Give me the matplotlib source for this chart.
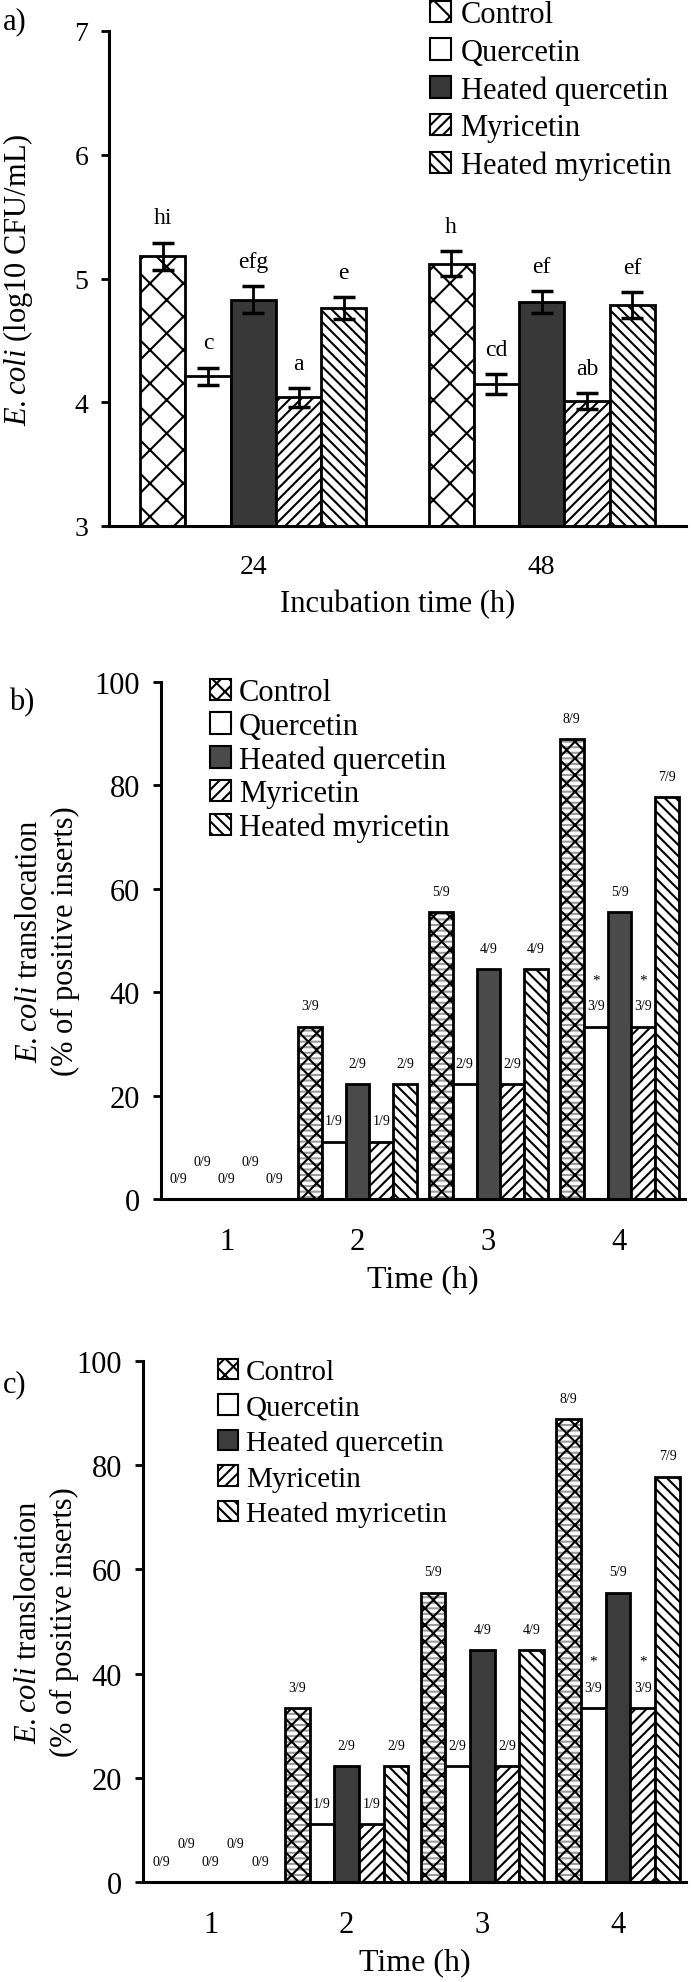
import matplotlib
matplotlib.use('Agg')
import matplotlib.pyplot as plt
from matplotlib.patches import Patch
import numpy as np

plt.rcParams['font.family'] = ['Liberation Serif', 'DejaVu Serif']
plt.rcParams['mathtext.fontset'] = 'custom'
plt.rcParams['mathtext.it'] = 'Liberation Serif:italic'
plt.rcParams['mathtext.rm'] = 'Liberation Serif'
plt.rcParams['hatch.linewidth'] = 1.5

# ---------------- data ----------------
treatments = ['Control', 'Quercetin', 'Heated quercetin', 'Myricetin', 'Heated myricetin']

# panel a: E. coli counts (log10 CFU/mL)
incubation_times = ['24', '48']
a_control = [5.18, 5.12]
a_quercetin = [4.21, 4.15]
a_heated_quercetin = [4.83, 4.81]
a_myricetin = [4.04, 4.01]
a_heated_myricetin = [4.76, 4.785]
a_control_err = [0.11, 0.10]
a_quercetin_err = [0.07, 0.08]
a_heated_quercetin_err = [0.11, 0.09]
a_myricetin_err = [0.075, 0.065]
a_heated_myricetin_err = [0.09, 0.105]
a_control_letters = ['hi', 'h']
a_quercetin_letters = ['c', 'cd']
a_heated_quercetin_letters = ['efg', 'ef']
a_myricetin_letters = ['a', 'ab']
a_heated_myricetin_letters = ['e', 'ef']

# panel b / c: positive inserts out of 9
time_h = [1, 2, 3, 4]
n_inserts = 9
b_control_pos = [0, 3, 5, 8]
b_quercetin_pos = [0, 1, 2, 3]
b_heated_quercetin_pos = [0, 2, 4, 5]
b_myricetin_pos = [0, 1, 2, 3]
b_heated_myricetin_pos = [0, 2, 4, 7]
c_control_pos = [0, 3, 5, 8]
c_quercetin_pos = [0, 1, 2, 3]
c_heated_quercetin_pos = [0, 2, 4, 5]
c_myricetin_pos = [0, 1, 2, 3]
c_heated_myricetin_pos = [0, 2, 4, 7]
significant = [(4, 'Quercetin'), (4, 'Myricetin')]

# ---------------- figure ----------------
W, H = 691, 1983
fig = plt.figure(figsize=(W / 100, H / 100), dpi=100)


def ax_from_px(left, top, right, bottom):
    return fig.add_axes([left / W, 1 - bottom / H, (right - left) / W, (bottom - top) / H])


def style_axes(ax, tick_size):
    for s in ['top', 'right']:
        ax.spines[s].set_visible(False)
    for s in ['left', 'bottom']:
        ax.spines[s].set_linewidth(2.2)
    ax.tick_params(axis='y', direction='out', length=6, width=2, pad=9, labelsize=tick_size)
    ax.tick_params(axis='x', length=0, pad=20, labelsize=tick_size)


# ---------- panel a ----------
axa = ax_from_px(109, 32, 686, 527)
style_axes(axa, 20)
a_vals = [a_control, a_quercetin, a_heated_quercetin, a_myricetin, a_heated_myricetin]
a_errs = [a_control_err, a_quercetin_err, a_heated_quercetin_err, a_myricetin_err, a_heated_myricetin_err]
a_lets = [a_control_letters, a_quercetin_letters, a_heated_quercetin_letters,
          a_myricetin_letters, a_heated_myricetin_letters]
a_style = [dict(facecolor='white', hatch='x'),
           dict(facecolor='white', hatch=None),
           dict(facecolor='#383838', hatch=None),
           dict(facecolor='white', hatch='///'),
           dict(facecolor='white', hatch='\\\\\\')]
wa = 0.157
xg = np.arange(len(incubation_times))
for i, name in enumerate(treatments):
    x = xg + (i - 2) * wa
    vals = np.array(a_vals[i])
    errs = np.array(a_errs[i])
    axa.bar(x, vals - 3, wa, bottom=3, edgecolor='black', linewidth=2, **a_style[i], zorder=2)
    axa.errorbar(x, vals, yerr=errs, fmt='none', ecolor='black', elinewidth=2,
                 capsize=8, capthick=2.5, zorder=3)
    for xi, v, e, t in zip(x, vals, errs, a_lets[i]):
        axa.text(xi, v + e + 0.2, t, ha='center', va='center', fontsize=17)
axa.set_xlim(-0.5, 1.5)
axa.set_ylim(3, 7)
axa.set_yticks([3, 4, 5, 6, 7])
axa.set_xticks(xg)
axa.set_xticklabels(incubation_times)
axa.set_xlabel('Incubation time (h)', fontsize=22, labelpad=7)
axa.set_ylabel(r'$\mathit{E.coli}$ (log10 CFU/mL)', fontsize=22)
axa.yaxis.set_label_coords(-0.128, 0.5)
handles_a = [Patch(edgecolor='black', linewidth=1.5, **s) for s in a_style]
axa.legend(handles_a, treatments, loc='upper left', bbox_to_anchor=(430 / W, 1 - 1 / H),
           bbox_transform=fig.transFigure, frameon=False, borderpad=0, borderaxespad=0,
           handlelength=0.7, handleheight=0.7, handletextpad=0.3, labelspacing=0.28,
           fontsize=22)
fig.text(15 / W, 1 - 22 / H, 'a)', fontsize=22, ha='center', va='center')


# ---------- panels b and c ----------
def translocation_panel(ax, counts, hq_color, legend_x, legend_top, lspacing, legend_size):
    style_axes(ax, 22)
    wb = 0.182
    styles = [dict(facecolor='white', hatch='xx'),
              dict(facecolor='white', hatch=None),
              dict(facecolor=hq_color, hatch=None),
              dict(facecolor='white', hatch='///'),
              dict(facecolor='white', hatch='\\\\\\')]
    zero_offsets = [4, 7.3, 4, 7.3, 4]
    t = np.array(time_h)
    for i, name in enumerate(treatments):
        x = t + (i - 2) * wb
        vals = np.array(counts[i]) / n_inserts * 100
        if name == 'Control':
            ax.bar(x, vals, wb, facecolor='white', edgecolor='#9a9a9a', hatch='---',
                   linewidth=0, zorder=2)
            ax.bar(x, vals, wb, facecolor='none', edgecolor='black', hatch='xx',
                   linewidth=2, zorder=2)
        else:
            ax.bar(x, vals, wb, edgecolor='black', linewidth=2, zorder=2, **styles[i])
        for j, (xi, v, n) in enumerate(zip(x, vals, counts[i])):
            off = zero_offsets[i] if n == 0 else 4
            ax.text(xi, v + off, f'{n}/{n_inserts}', ha='center', va='center', fontsize=10)
            if (time_h[j], name) in significant:
                ax.text(xi, v + 9, '*', ha='center', va='center', fontsize=11)
    ax.set_xlim(0.5, 4.5)
    ax.set_ylim(0, 100)
    ax.set_yticks([0, 20, 40, 60, 80, 100])
    ax.set_xticks(time_h)
    ax.set_xlabel('Time (h)', fontsize=23, labelpad=6)
    ax.set_ylabel(r'$\mathit{E.coli}$ translocation' + '\n(% of positive inserts)',
                  fontsize=22, linespacing=1.3)
    handles = [Patch(edgecolor='black', linewidth=1.5, **s) for s in styles]
    ax.legend(handles, treatments, loc='upper left', bbox_to_anchor=(legend_x / W, 1 - legend_top / H),
              bbox_transform=fig.transFigure, frameon=False, borderpad=0, borderaxespad=0,
              handlelength=0.7, handleheight=0.7, handletextpad=0.25, labelspacing=lspacing,
              fontsize=legend_size)


axb = ax_from_px(161, 683, 685, 1200)
translocation_panel(axb, [b_control_pos, b_quercetin_pos, b_heated_quercetin_pos,
                          b_myricetin_pos, b_heated_myricetin_pos], '#4a4a4a', 210, 679, 0.15, 22)
axb.yaxis.set_label_coords(-0.155, 0.5)
fig.text(22 / W, 1 - 703 / H, 'b)', fontsize=22, ha='center', va='center')

axc = ax_from_px(143, 1362, 686, 1883)
translocation_panel(axc, [c_control_pos, c_quercetin_pos, c_heated_quercetin_pos,
                          c_myricetin_pos, c_heated_myricetin_pos], '#3c3c3c', 218, 1360, 0.31, 21)
axc.yaxis.set_label_coords(-0.118, 0.5)
fig.text(15 / W, 1 - 1385 / H, 'c)', fontsize=22, ha='center', va='center')

fig.savefig('out.png', dpi=100)
